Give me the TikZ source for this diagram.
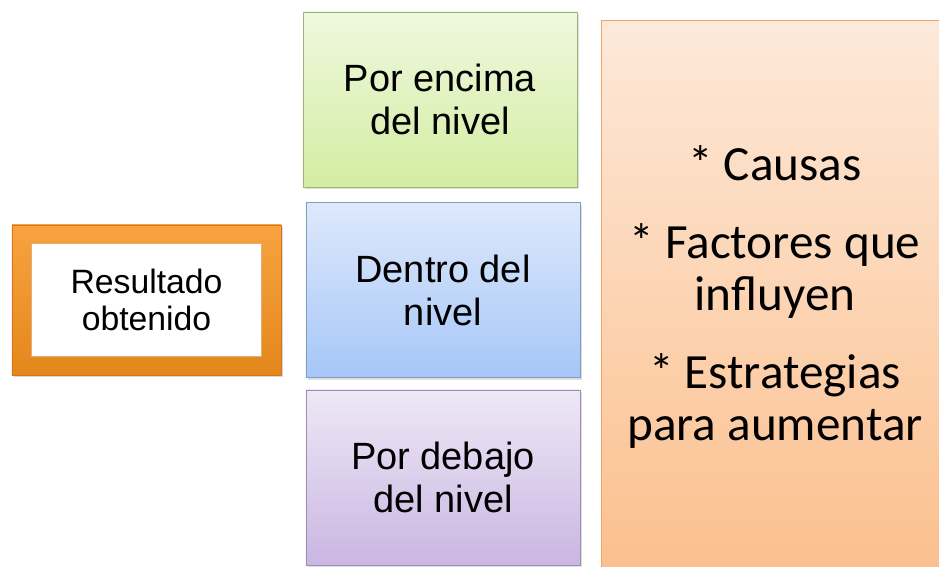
\documentclass[tikz,border=0pt]{standalone}
\usepackage{fontspec}
\setmainfont{Liberation Sans}
\newfontfamily\calibri{Carlito}
\usetikzlibrary{shadows}

\definecolor{frameorange}{HTML}{F7931E}
\definecolor{framedark}{HTML}{D9731A}
\definecolor{greentop}{HTML}{EFF8DE}
\definecolor{greenbot}{HTML}{D3EDA2}
\definecolor{greenline}{HTML}{9CB57A}
\definecolor{bluetop}{HTML}{DEE9FB}
\definecolor{bluebot}{HTML}{A6C6F8}
\definecolor{blueline}{HTML}{7F9DC4}
\definecolor{purpletop}{HTML}{EEE8F6}
\definecolor{purplebot}{HTML}{CAB6E2}
\definecolor{purpleline}{HTML}{9E8DB5}
\definecolor{peachtop}{HTML}{FDE9DA}
\definecolor{peachbot}{HTML}{FBBF8C}
\definecolor{peachline}{HTML}{EFA56A}

\begin{document}
\begin{tikzpicture}[x=0.025cm, y=-0.025cm,
    every node/.style={inner sep=0pt, align=center},
    lvlbox/.style={rectangle, line width=0.6pt, minimum width=6.85cm, minimum height=4.375cm,
        font=\fontsize{27}{30.5}\selectfont,
        drop shadow={opacity=0.25, shadow xshift=1.2pt, shadow yshift=-1.5pt}}]
    \useasboundingbox (0,0) rectangle (939,566);

    % resultado
    \node [rectangle, minimum width=6.725cm, minimum height=3.75cm, draw=framedark, line width=0.6pt,
        top color=frameorange!85!white, bottom color=frameorange!92!black,
        drop shadow={opacity=0.3, shadow xshift=1.5pt, shadow yshift=-1.5pt}] (res) at (146.5,300) {};
    \node [rectangle, minimum width=5.75cm, minimum height=2.825cm, fill=white, draw=framedark!60, line width=0.4pt,
        font=\fontsize{24}{26}\selectfont] (resin) at (res.center) {Resultado\\obtenido};

    % niveles
    \node [lvlbox, draw=greenline, top color=greentop, bottom color=greenbot] (sobre) at (440,99.5) {Por encima\\del nivel};
    \node [lvlbox, draw=blueline, top color=bluetop, bottom color=bluebot] (dentro) at (443,290) {Dentro del\\nivel};
    \node [lvlbox, draw=purpleline, top color=purpletop, bottom color=purplebot] (bajo) at (443,477.5) {Por debajo\\del nivel};

    % acciones
    \node [rectangle, minimum width=9cm, minimum height=14cm, draw=peachline, line width=0.6pt,
        top color=peachtop, bottom color=peachbot, anchor=north west] (acc) at (601,20) {};
    \node [font=\calibri\fontsize{35}{37}\selectfont] (lista) at (775,297)
        {* Causas\\[18.5pt] * Factores que\\influyen\\[18.5pt] * Estrategias\\para aumentar};
\end{tikzpicture}
\end{document}
